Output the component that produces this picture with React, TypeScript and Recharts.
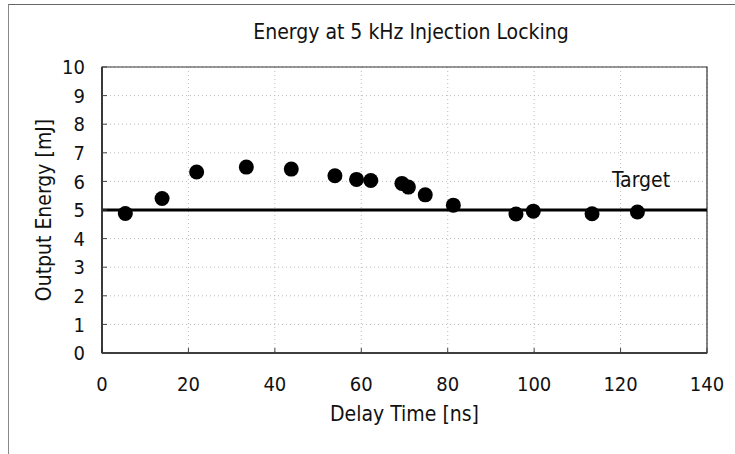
import React from 'react';
import { ScatterChart, Scatter, XAxis, YAxis, CartesianGrid, ReferenceLine, ReferenceArea } from 'recharts';

const delayNs = [5.4, 13.9, 21.9, 33.4, 43.8, 53.9, 58.9, 62.2, 69.4, 70.9, 74.8, 81.3, 95.8, 99.8, 113.4, 123.9];
const energyMJ = [4.88, 5.4, 6.33, 6.5, 6.43, 6.2, 6.07, 6.03, 5.93, 5.8, 5.53, 5.17, 4.86, 4.96, 4.87, 4.93];
const xTicks = [0, 20, 40, 60, 80, 100, 120, 140];
const yTicks = [0, 1, 2, 3, 4, 5, 6, 7, 8, 9, 10];
const targetEnergy = 5;

const points = delayNs.map((x, i) => ({ x, y: energyMJ[i] }));

const FONT = '"DejaVu Sans Condensed", "DejaVu Sans", sans-serif';

const Dot = (props: any) => <circle cx={props.cx} cy={props.cy} r={7.5} fill="#000" />;

const YLabel = ({ viewBox }: any) => {
  const cx = viewBox.x + 44;
  const cy = viewBox.y + viewBox.height / 2;
  return (
    <text x={cx} y={cy} transform={`rotate(-90 ${cx} ${cy})`} textAnchor="middle" dominantBaseline="central"
      fontFamily={FONT} fontSize={21} fill="#111">Output Energy [mJ]</text>
  );
};

const XLabel = ({ viewBox }: any) => (
  <text x={viewBox.x + viewBox.width / 2} y={viewBox.y + 68} textAnchor="middle"
    fontFamily={FONT} fontSize={21} fill="#111">Delay Time [ns]</text>
);

const TargetLabel = ({ viewBox }: any) => (
  <text x={viewBox.x + viewBox.width - 95} y={viewBox.y - 23} fontFamily={FONT} fontSize={21} fill="#111">Target</text>
);

export default function App() {
  return (
    <div style={{ position: 'absolute', left: 0, top: 0, width: 735, height: 454, background: '#fff' }}>
      <div style={{ position: 'absolute', left: 8, top: 4, width: 740, height: 460, borderLeft: '1px solid #888', borderTop: '1px solid #666' }} />
      <div style={{ position: 'absolute', left: 0, top: 20, width: 822, textAlign: 'center', fontFamily: FONT, fontSize: 21, color: '#111' }}>
        Energy at 5 kHz Injection Locking
      </div>
      <div style={{ position: 'absolute', left: 0, top: 0 }}>
        <ScatterChart width={735} height={454} margin={{ top: 67, right: 28, bottom: 0, left: 0 }}>
          <CartesianGrid stroke="#bbb" strokeDasharray="1 3" />
          <XAxis type="number" dataKey="x" domain={[0, 140]} ticks={xTicks} height={101}
            tickSize={-5} tickMargin={29} axisLine={{ stroke: '#222', strokeWidth: 1.5 }} tickLine={{ stroke: '#444' }}
            tick={{ fill: '#111', fontFamily: FONT, fontSize: 20 }} label={<XLabel />} />
          <YAxis type="number" dataKey="y" domain={[0, 10]} ticks={yTicks} width={102}
            tickSize={-5} tickMargin={22} axisLine={{ stroke: '#222', strokeWidth: 1.5 }} tickLine={{ stroke: '#444' }}
            tick={{ fill: '#111', fontFamily: FONT, fontSize: 20 }} label={<YLabel />} />
          <ReferenceArea x1={0} x2={140} y1={0} y2={10} fill="none" stroke="#333" strokeWidth={1.2} />
          <ReferenceLine y={targetEnergy} stroke="#000" strokeWidth={3} label={<TargetLabel />} />
          <Scatter data={points} fill="#000" shape={<Dot />} isAnimationActive={false} />
        </ScatterChart>
      </div>
    </div>
  );
}
